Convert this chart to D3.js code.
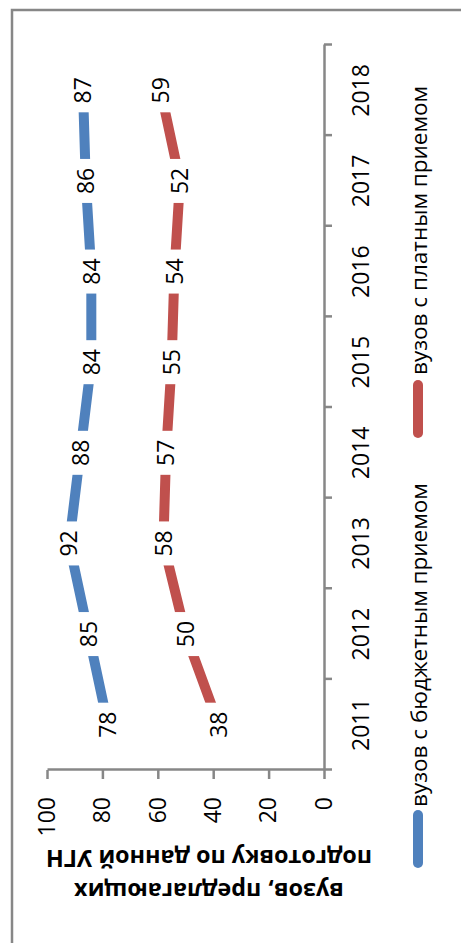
<!DOCTYPE html>
<html>
<head>
<meta charset="utf-8">
<script src="https://cdn.jsdelivr.net/npm/d3@7"></script>
<style>
  body { margin: 0; background: #fff; }
  text { font-family: "Open Sans", sans-serif; fill: #000; }
</style>
</head>
<body>
<svg id="my_svg"></svg>
<script>
const years = ['2011', '2012', '2013', '2014', '2015', '2016', '2017', '2018'];
const budget = [78, 85, 92, 88, 84, 84, 86, 87];
const paid = [38, 50, 58, 57, 55, 54, 52, 59];
const valueTicks = [0, 20, 40, 60, 80, 100];
const seriesNames = ['вузов с бюджетным приемом', 'вузов с платным приемом'];
const titleLines = ['вузов, предлагающих', 'подготовку по данной УГН'];

const width = 461;
const height = 943;
const axisColor = '#878787';
const colors = ['#4f81bd', '#c0504d'];
const fontFamily = '"Open Sans", sans-serif';

const svg = d3.select('#my_svg')
    .attr('width', width)
    .attr('height', height);

// рамка диаграммы (обрезана справа и снизу)
svg.append('rect')
    .attr('x', 12)
    .attr('y', 10)
    .attr('width', 700)
    .attr('height', 1200)
    .attr('fill', 'none')
    .attr('stroke', axisColor)
    .attr('stroke-width', 2.5);

// вся диаграмма повернута на 90 градусов против часовой стрелки
const g = svg.append('g')
    .attr('transform', `translate(0, ${height}) rotate(-90)`);

const x = d3.scalePoint()
    .domain(years)
    .range([173, 898])
    .padding(0.5);

const xb = d3.scaleLinear()
    .domain([0, years.length])
    .range([173, 898]);

const y = d3.scaleLinear()
    .domain([0, 100])
    .range([324, 47]);

// ось значений
const yAxis = g.append('g')
    .attr('transform', 'translate(173, 0)')
    .call(d3.axisLeft(y).tickValues(valueTicks).tickSize(9).tickSizeOuter(0).tickPadding(18));

// ось категорий
const xAxis = g.append('g')
    .attr('transform', 'translate(0, 324)')
    .call(d3.axisBottom(xb).tickValues(d3.range(years.length + 1)).tickSize(8).tickSizeOuter(0).tickFormat(''));

[yAxis, xAxis].forEach(a => {
    a.selectAll('path, line')
        .attr('stroke', axisColor)
        .attr('stroke-width', 2.5);
    a.selectAll('text')
        .attr('font-size', 23)
        .attr('font-family', fontFamily)
        .attr('fill', '#000');
});

g.append('g')
    .selectAll('text')
    .data(years)
    .enter().append('text')
    .attr('x', d => x(d))
    .attr('y', 369)
    .attr('text-anchor', 'middle')
    .attr('font-size', 23)
    .text(d => d);

// подпись оси
const title = g.append('text')
    .attr('transform', 'translate(60, 209) rotate(-90)')
    .attr('text-anchor', 'middle')
    .attr('font-size', 23.3)
    .attr('font-weight', 'bold');

title.selectAll('tspan')
    .data(titleLines)
    .enter().append('tspan')
    .attr('x', 0)
    .attr('dy', (d, i) => i === 0 ? 0 : 33)
    .text(d => d);

// линии
const line = d3.line()
    .x((d, i) => x(years[i]))
    .y(d => y(d));

const series = [budget, paid];

g.append('g')
    .selectAll('path')
    .data(series)
    .enter().append('path')
    .attr('d', d => line(d))
    .attr('fill', 'none')
    .attr('stroke', (d, i) => colors[i])
    .attr('stroke-width', 10);

// подписи данных на белом фоне
series.forEach(values => {
    const lab = g.append('g')
        .selectAll('g')
        .data(values)
        .enter().append('g')
        .attr('transform', (d, i) => `translate(${x(years[i])}, ${y(d)})`);

    lab.append('rect')
        .attr('x', -22)
        .attr('y', -14)
        .attr('width', 44)
        .attr('height', 28)
        .attr('fill', '#fff');

    lab.append('text')
        .attr('text-anchor', 'middle')
        .attr('dy', '0.36em')
        .attr('font-size', 23)
        .text(d => d);
});

// легенда
const legendX = [[80, 128, 136], [510, 558, 568]];

const legend = g.append('g')
    .selectAll('g')
    .data(seriesNames)
    .enter().append('g');

legend.append('line')
    .attr('x1', (d, i) => legendX[i][0])
    .attr('x2', (d, i) => legendX[i][1])
    .attr('y1', 418)
    .attr('y2', 418)
    .attr('stroke', (d, i) => colors[i])
    .attr('stroke-width', 10)
    .attr('stroke-linecap', 'round');

legend.append('text')
    .attr('x', (d, i) => legendX[i][2])
    .attr('y', 427)
    .attr('font-size', 22.5)
    .text(d => d);
</script>
</body>
</html>
